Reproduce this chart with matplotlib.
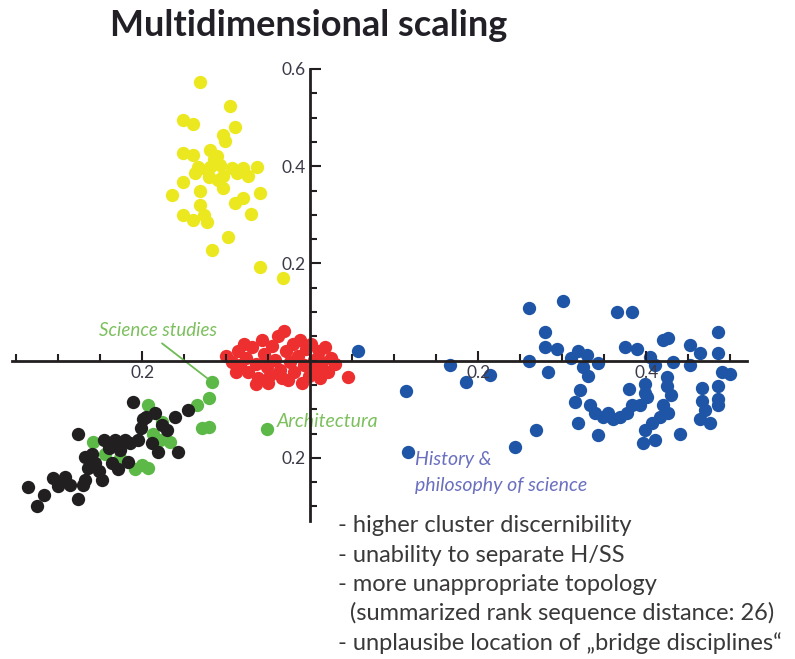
import matplotlib
matplotlib.use("Agg")
import matplotlib.pyplot as plt
from matplotlib.ticker import MultipleLocator

plt.rcParams['font.family'] = ['Lato', 'DejaVu Sans']

# MDS coordinates of the disciplines, grouped by cluster
yellow_x = [-0.131, -0.095, -0.151, -0.140, -0.089, -0.104, -0.101, -0.152, -0.139, -0.119,
            -0.111, -0.133, -0.119, -0.107, -0.093, -0.080, -0.063, -0.074, -0.121, -0.104,
            -0.152, -0.104, -0.131, -0.164, -0.060, -0.080, -0.089, -0.131, -0.151, -0.139,
            -0.123, -0.127, -0.071, -0.098, -0.117, -0.060, -0.032, -0.115, -0.123, -0.110,
            -0.087, -0.137]
yellow_y = [0.574, 0.523, 0.496, 0.486, 0.481, 0.465, 0.451, 0.428, 0.424, 0.434,
            0.420, 0.399, 0.399, 0.403, 0.397, 0.397, 0.399, 0.379, 0.377, 0.379,
            0.368, 0.356, 0.348, 0.340, 0.344, 0.335, 0.325, 0.321, 0.300, 0.290,
            0.286, 0.300, 0.302, 0.255, 0.228, 0.193, 0.171, 0.414, 0.393, 0.372,
            0.387, 0.387]

red_x = [-0.100, -0.093, -0.086, -0.083, -0.076, -0.074, -0.069, -0.064, -0.062, -0.065,
         -0.057, -0.055, -0.052, -0.048, -0.045, -0.042, -0.038, -0.036, -0.031, -0.029,
         -0.026, -0.024, -0.021, -0.019, -0.015, -0.012, -0.010, -0.007, -0.005, -0.001,
         0.001, 0.004, 0.007, 0.010, 0.012, 0.014, 0.018, 0.021, 0.025, 0.029,
         0.045, -0.079, -0.050, -0.088, -0.033]
red_y = [0.010, -0.002, 0.019, -0.010, 0.006, -0.023, 0.027, -0.006, -0.035, -0.049,
         0.043, 0.014, -0.014, -0.029, 0.031, 0.002, 0.051, -0.019, 0.060, 0.019,
         -0.039, -0.002, 0.035, -0.023, 0.010, 0.043, -0.047, -0.010, 0.023, -0.031,
         0.035, 0.002, -0.019, 0.019, -0.035, -0.002, 0.027, -0.023, 0.006, -0.006,
         -0.033, 0.035, -0.047, -0.023, -0.035]

blue_x = [0.057, 0.167, 0.185, 0.214, 0.114, 0.117, 0.244, 0.269, 0.260, 0.301,
          0.260, 0.280, 0.280, 0.294, 0.283, 0.365, 0.383, 0.319, 0.330, 0.343,
          0.325, 0.331, 0.375, 0.389, 0.405, 0.420, 0.426, 0.432, 0.452, 0.464,
          0.485, 0.486, 0.500, 0.425, 0.425, 0.399, 0.399, 0.379, 0.321, 0.315,
          0.339, 0.355, 0.369, 0.377, 0.348, 0.393, 0.401, 0.420, 0.426, 0.417,
          0.407, 0.399, 0.396, 0.319, 0.343, 0.440, 0.467, 0.485, 0.467, 0.486,
          0.464, 0.476, 0.486, 0.333, 0.360, 0.411, 0.429, 0.470, 0.452, 0.490,
          0.383, 0.411, 0.310]
blue_y = [0.019, -0.008, -0.043, -0.029, -0.062, -0.187, -0.177, -0.142, 0.109, 0.123,
          0.000, 0.058, 0.029, 0.023, -0.023, 0.099, 0.099, 0.019, 0.012, -0.004,
          -0.014, -0.031, 0.029, 0.023, 0.008, 0.043, 0.047, -0.002, -0.010, 0.016,
          0.016, 0.058, -0.027, -0.033, -0.053, -0.049, -0.066, -0.058, -0.060, -0.086,
          -0.107, -0.107, -0.115, -0.107, -0.117, -0.091, -0.074, -0.091, -0.107, -0.115,
          -0.128, -0.142, -0.169, -0.128, -0.154, -0.150, -0.056, -0.053, -0.084, -0.080,
          -0.121, -0.128, -0.091, -0.091, -0.121, -0.008, -0.070, -0.101, 0.033, -0.023,
          -0.091, -0.163, 0.006]

green_x = [-0.117, -0.121, -0.135, -0.129, -0.121, -0.052, -0.193, -0.167, -0.187, -0.200,
           -0.193, -0.226, -0.258, -0.176, -0.208, -0.244, -0.179]
green_y = [-0.045, -0.076, -0.091, -0.138, -0.136, -0.140, -0.091, -0.167, -0.152, -0.214,
           -0.220, -0.200, -0.167, -0.126, -0.224, -0.193, -0.163]

black_x = [-0.211, -0.277, -0.336, -0.317, -0.325, -0.276, -0.306, -0.292, -0.286, -0.268,
           -0.268, -0.265, -0.248, -0.246, -0.232, -0.240, -0.229, -0.217, -0.236, -0.256,
           -0.214, -0.205, -0.202, -0.196, -0.185, -0.176, -0.170, -0.188, -0.181, -0.161,
           -0.146, -0.157, -0.300, -0.271, -0.199, -0.260, -0.226, -0.220, -0.252]
black_y = [-0.086, -0.152, -0.261, -0.276, -0.300, -0.284, -0.241, -0.239, -0.255, -0.245,
           -0.198, -0.220, -0.245, -0.163, -0.163, -0.179, -0.224, -0.208, -0.210, -0.210,
           -0.169, -0.163, -0.138, -0.117, -0.107, -0.132, -0.142, -0.169, -0.187, -0.115,
           -0.101, -0.187, -0.259, -0.255, -0.121, -0.193, -0.183, -0.163, -0.228]

x_tick_values = [-0.2, 0.2, 0.4]
x_tick_labels = ["0.2", "0.2", "0.4"]
y_tick_values = [-0.2, 0.2, 0.4, 0.6]
y_tick_labels = ["0.2", "0.2", "0.4", "0.6"]

notes = [
    "- higher cluster discernibility",
    "- unability to separate H/SS",
    "- more unappropriate topology",
    "  (summarized rank sequence distance: 26)",
    "- unplausibe location of \u201ebridge disciplines\u201c",
]

fig = plt.figure(figsize=(7.95, 6.59), dpi=100)
ax = fig.add_axes([0.0151, 0.2094, 0.9245, 0.6859])
ax.set_xlim(-0.355, 0.52)
ax.set_ylim(-0.33, 0.60)

marker_size = 92
ax.scatter(yellow_x, yellow_y, s=marker_size, color="#ece81f", linewidths=0, zorder=1)
ax.scatter(red_x, red_y, s=marker_size, color="#ee2f2f", linewidths=0, zorder=1)
ax.scatter(blue_x, blue_y, s=marker_size, color="#1f55a6", linewidths=0, zorder=1)
ax.scatter(green_x, green_y, s=marker_size, color="#5cb948", linewidths=0, zorder=1)
ax.scatter(black_x, black_y, s=marker_size, color="#221f20", linewidths=0, zorder=1.1)

# axes crossing at the origin
for side in ("top", "right"):
    ax.spines[side].set_visible(False)
ax.spines["left"].set_position(("data", 0))
ax.spines["bottom"].set_position(("data", 0))
for side in ("left", "bottom"):
    ax.spines[side].set_linewidth(2.0)
    ax.spines[side].set_color("#231f20")
    ax.spines[side].set_zorder(3)

ax.set_xticks(x_tick_values)
ax.set_xticklabels(x_tick_labels)
ax.set_yticks(y_tick_values)
ax.set_yticklabels(y_tick_labels)
ax.xaxis.set_minor_locator(MultipleLocator(0.05))
ax.yaxis.set_minor_locator(MultipleLocator(0.05))
ax.tick_params(which="major", direction="in", length=7, width=1.5, color="#231f20",
               labelsize=12.5, labelcolor="#3d3a48", pad=3)
ax.tick_params(which="minor", direction="in", length=5, width=1.5, color="#231f20")
ax.tick_params(axis="y", which="major", length=8)

# cluster annotations
green_txt = "#7cc05e"
ax.annotate("", xy=(-0.119, -0.041), xytext=(-0.179, 0.039),
            arrowprops=dict(arrowstyle="-", color="#6fbb55", lw=1.3))
ax.text(-0.181, 0.062, "Science studies", color=green_txt, style="italic",
        fontsize=13.5, ha="center", va="center")
ax.text(-0.040, -0.126, "Architectura", color=green_txt, style="italic",
        fontsize=14, ha="left", va="center")
ax.text(0.125, -0.204, "History &", color="#6a6fbf", style="italic",
        fontsize=14, ha="left", va="center")
ax.text(0.125, -0.256, "philosophy of science", color="#6a6fbf", style="italic",
        fontsize=14, ha="left", va="center")

fig.text(110 / 795, 1 - 25 / 659, "Multidimensional scaling", fontsize=26,
         fontweight="bold", color="#231f26", ha="left", va="center")

for i, line in enumerate(notes):
    fig.text(338 / 795, 1 - (532 + 29.5 * i) / 659, line, fontsize=17,
             color="#3a3838", ha="left", va="baseline")

fig.savefig("out.png", dpi=100)
